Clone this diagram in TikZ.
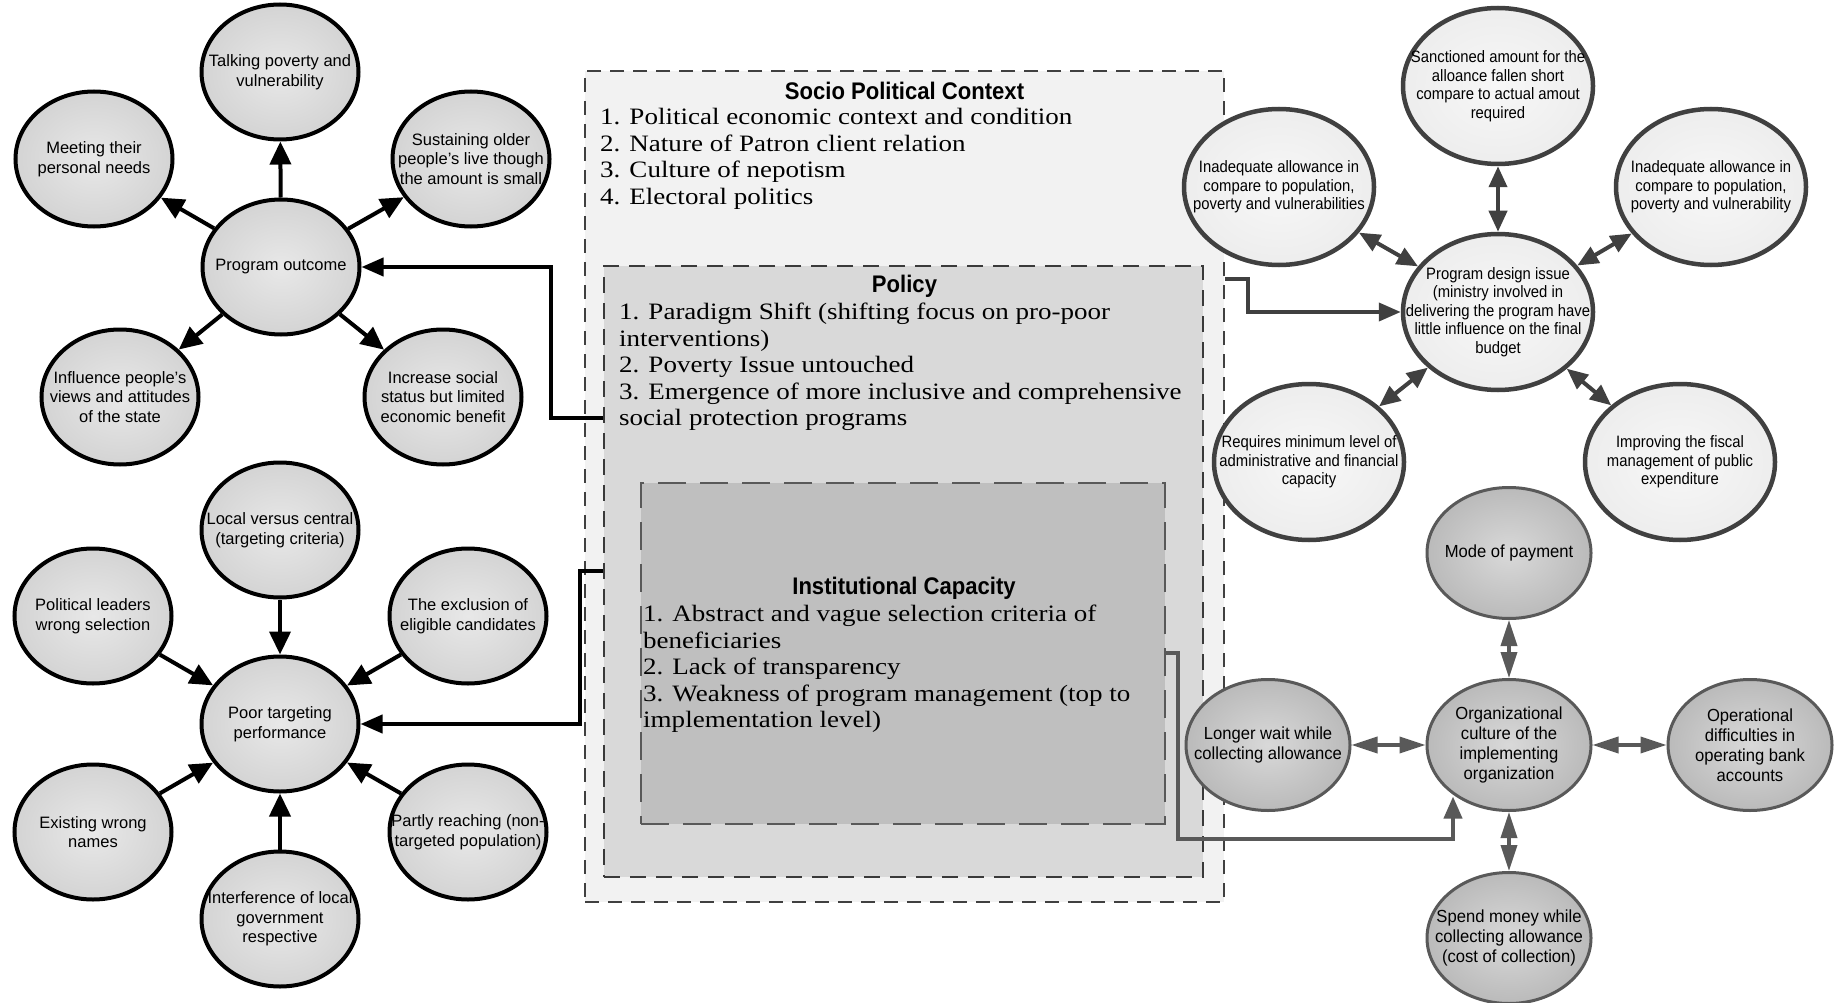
\documentclass[tikz,border=0pt]{standalone}
\usepackage{fontspec}
\setmainfont{Liberation Sans}
\newfontfamily\boxserif[FakeStretch=1.15]{Liberation Serif}
\newfontfamily\headsans[FakeStretch=0.92]{Liberation Sans}
\newfontfamily\narrowsans[FakeStretch=0.9]{Liberation Sans}
\newfontfamily\midsans[FakeStretch=0.95]{Liberation Sans}
\usetikzlibrary{arrows.meta,shapes.geometric}

\definecolor{edgedark}{HTML}{404040}
\definecolor{edgemid}{HTML}{595959}
\definecolor{boxlight}{HTML}{F2F2F2}
\definecolor{boxmid}{HTML}{D9D9D9}
\definecolor{boxdeep}{HTML}{BFBFBF}

\tikzset{
  % light grey outcome / targeting bubbles
  leftbub/.style={ellipse, inner sep=0pt, minimum width=157pt, minimum height=135pt,
    draw=black, line width=4pt, inner color=black!9, outer color=black!17},
  leftbub text/.style={align=center, inner sep=0pt, font=\fontsize{16.5}{19.5}\selectfont},
  % pale design-issue bubbles
  designbub/.style={ellipse, inner sep=0pt, minimum width=190pt, minimum height=156pt,
    draw=edgedark, line width=4.5pt, inner color=black!3, outer color=black!7},
  designbub text/.style={align=center, inner sep=0pt, font=\narrowsans\fontsize{16.5}{18.5}\selectfont},
  % darker implementation bubbles
  orgbub/.style={ellipse, inner sep=0pt, minimum width=164pt, minimum height=131pt,
    draw=edgemid, line width=3pt, inner color=black!15, outer color=black!27},
  orgbub text/.style={align=center, inner sep=0pt, font=\midsans\fontsize{17.5}{20}\selectfont},
  % nested context boxes
  ctxbox/.style={rectangle, inner sep=0pt, fill=boxlight, draw=edgedark, line width=1.5pt,
    dash pattern=on 14pt off 9pt},
  polbox/.style={rectangle, inner sep=0pt, fill=boxmid, draw=edgedark!90!black, line width=2pt,
    dash pattern=on 16pt off 10pt},
  instbox/.style={rectangle, inner sep=0pt, fill=boxdeep, draw=edgemid, line width=2.5pt,
    dash pattern=on 28pt off 14pt},
  boxhead/.style={inner sep=0pt, font=\headsans\bfseries\fontsize{24}{26}\selectfont},
  boxitem/.style={inner sep=0pt, anchor=base west, font=\boxserif\fontsize{23.5}{26.6}\selectfont},
  % connectors
  blackarrow/.style={draw=black, line width=4pt, -{Triangle[length=23pt,width=21pt]}},
  darkarrow/.style={draw=edgedark, line width=4pt, -{Triangle[length=22pt,width=19pt]}},
  twinarrow/.style={draw=edgedark, line width=4pt,
    {Triangle[length=21pt,width=18pt]}-{Triangle[length=21pt,width=18pt]}},
  orgtwin/.style={draw=edgemid, line width=3.5pt,
    {Triangle[length=26pt,width=16pt]}-{Triangle[length=26pt,width=16pt]}},
  elbow/.style={line width=4pt, line join=miter, -{Triangle[length=22pt,width=18pt]}},
}

\newcommand\bubble[4]{%
  \node[#1] (#2) at (#3) {};
  \node[#1 text] (#2-t) at (#2.center) {#4};}

\begin{document}
\begin{tikzpicture}[x=1pt,y=-1pt]
\fill[white] (0,0) rectangle (1842,1003);
\useasboundingbox (0,0) rectangle (1842,1003);

% ---------- nested context boxes ----------
\node[ctxbox, minimum width=639pt, minimum height=831pt] (soc) at (904.5,486.5) {};
\node[polbox, minimum width=599pt, minimum height=611pt] (pol) at (903.5,571.5) {};
\node[instbox, minimum width=524pt, minimum height=341pt] (inst) at (903,653.5) {};

\node[boxhead] (soc-h) at (904.5,90.5) {Socio Political Context};
\node[boxitem] (soc-1) at (600,124.5) {1. Political economic context and condition};
\node[boxitem] (soc-2) at (600,151.1) {2. Nature of Patron client relation};
\node[boxitem] (soc-3) at (600,177.7) {3. Culture of nepotism};
\node[boxitem] (soc-4) at (600,204.3) {4. Electoral politics};

\node[boxhead, anchor=base] (pol-h) at (904.5,292) {Policy};
\node[boxitem] (pol-1) at (619,319.5) {1. Paradigm Shift (shifting focus on pro-poor};
\node[boxitem] (pol-2) at (619,346.1) {interventions)};
\node[boxitem] (pol-3) at (619,372.7) {2. Poverty Issue untouched};
\node[boxitem] (pol-4) at (619,399.3) {3. Emergence of more inclusive and comprehensive};
\node[boxitem] (pol-5) at (619,425.9) {social protection programs};

\node[boxhead] (inst-h) at (904,588.5) {Institutional Capacity};
\node[boxitem] (inst-1) at (643,621.4) {1. Abstract and vague selection criteria of};
\node[boxitem] (inst-2) at (643,648) {beneficiaries};
\node[boxitem] (inst-3) at (643,674.6) {2. Lack of transparency};
\node[boxitem] (inst-4) at (643,701.2) {3. Weakness of program management (top to};
\node[boxitem] (inst-5) at (643,727.8) {implementation level)};

% ---------- program outcome cluster ----------
\bubble{leftbub}{po}{281,267}{Program outcome}
\bubble{leftbub}{talk}{280,72}{Talking poverty and\\vulnerability}
\bubble{leftbub}{meet}{94,159}{Meeting their\\personal needs}
\bubble{leftbub}{sust}{471,159}{Sustaining older\\people’s live though\\the amount is small}
\bubble{leftbub}{infl}{120,397}{Influence people’s\\views and attitudes\\of the state}
\bubble{leftbub}{incr}{443,397}{Increase social\\status but limited\\economic benefit}

\foreach \t in {talk,meet,sust,infl,incr}
  \draw[blackarrow] (po) -- (\t);

% ---------- targeting cluster ----------
\bubble{leftbub}{poor}{280,724}{Poor targeting\\performance}
\bubble{leftbub}{local}{280,530}{Local versus central\\(targeting criteria)}
\bubble{leftbub}{polit}{93,616}{Political leaders\\wrong selection}
\bubble{leftbub}{excl}{468,616}{The exclusion of\\eligible candidates}
\bubble{leftbub}{exist}{93,832}{Existing wrong\\names}
\bubble{leftbub}{partly}{468,832}{Partly reaching (non-\\targeted population)}
\bubble{leftbub}{interf}{280,919}{Interference of local\\government\\respective}

\foreach \s in {local,polit,excl,exist,partly,interf}
  \draw[blackarrow] (\s) -- (poor);

% ---------- program design cluster ----------
\bubble{designbub}{pdi}{1498,312}{Program design issue\\(ministry involved in\\delivering the program have\\little influence on the final\\budget}
\bubble{designbub}{sanc}{1498,86}{Sanctioned amount for the\\alloance fallen short\\compare to actual amout\\required}
\bubble{designbub}{inadl}{1279,187}{Inadequate allowance in\\compare to population,\\poverty and vulnerabilities}
\bubble{designbub}{inadr}{1711,187}{Inadequate allowance in\\compare to population,\\poverty and vulnerability}
\bubble{designbub}{reqs}{1309,462}{Requires minimum level of\\administrative and financial\\capacity}
\bubble{designbub}{fisc}{1680,462}{Improving the fiscal\\management of public\\expenditure}

\foreach \s in {sanc,inadl,inadr,reqs,fisc}
  \draw[twinarrow] (pdi) -- (\s);

% ---------- implementation cluster ----------
\bubble{orgbub}{org}{1509,745}{Organizational\\culture of the\\implementing\\organization}
\bubble{orgbub}{mode}{1509,553}{Mode of payment}
\bubble{orgbub}{wait}{1268,745}{Longer wait while\\collecting allowance}
\bubble{orgbub}{bank}{1750,745}{Operational\\difficulties in\\operating bank\\accounts}
\bubble{orgbub}{spend}{1509,938}{Spend money while\\collecting allowance\\(cost of collection)}

\foreach \s in {mode,wait,bank,spend}
  \draw[orgtwin] (org) -- (\s);

% ---------- elbow connectors from the boxes ----------
\coordinate (k1) at (551,418);
\draw[elbow, draw=black] (k1 -| pol.west) -- (k1) |- (po.east);

\coordinate (k2) at (580,571);
\draw[elbow, draw=black] (k2 -| pol.west) -- (k2) |- (poor.east);

\coordinate (k3) at (1248,279);
\draw[elbow, draw=edgedark] (k3 -| soc.east) -- (k3) |- (pdi.west);

\coordinate (k4) at (1178,653);
\coordinate (k5) at (1453,839);
\draw[elbow, draw=edgemid] (k4 -| inst.east) -- (k4) |- (k5) -- (k5 |- org.224);

\end{tikzpicture}
\end{document}
